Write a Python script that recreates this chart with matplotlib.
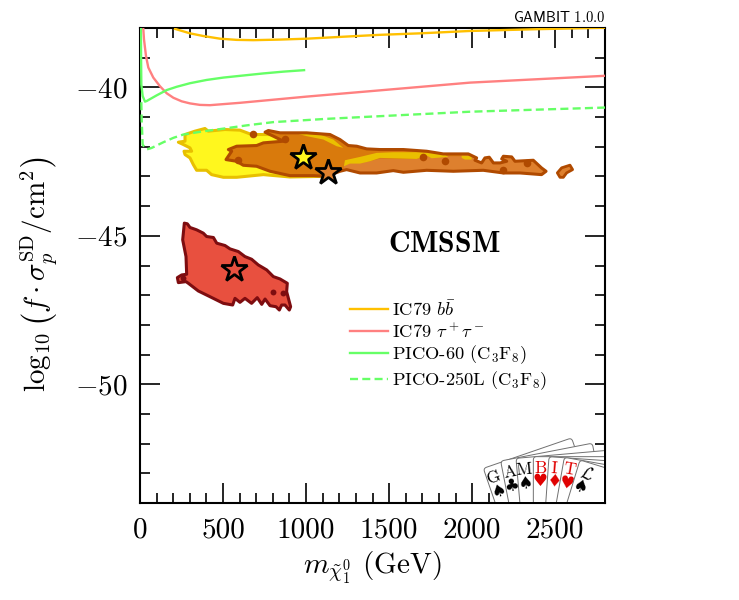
import numpy as np
import matplotlib
matplotlib.use("Agg")
import matplotlib.pyplot as plt
from matplotlib.patches import Polygon, FancyBboxPatch
from matplotlib.transforms import Affine2D

plt.rcParams['font.family'] = ['cmr10', 'DejaVu Sans']
plt.rcParams['mathtext.fontset'] = 'cm'
plt.rcParams['axes.unicode_minus'] = False
plt.rcParams['axes.formatter.use_mathtext'] = True

# limits from direct detection, neutralino mass (GeV) vs log10 cross section
bb_x = [211, 301, 381, 482, 582, 682, 843, 1004, 1204, 1445, 1686, 1987, 2390, 2800]
bb_y = [-38.03, -38.18, -38.27, -38.36, -38.40, -38.41, -38.39, -38.36, -38.30, -38.23, -38.18, -38.10, -38.04, -37.99]
tau_x = [20, 24, 36, 50, 80, 120, 161, 201, 251, 301, 361, 421, 602, 1005, 1445, 1987, 2800]
tau_y = [-38.04, -38.38, -38.94, -39.33, -39.67, -39.96, -40.2, -40.35, -40.47, -40.54, -40.59, -40.6,
         -40.52, -40.31, -40.10, -39.84, -39.61]
pico60_x = [5, 8, 16, 30, 40, 100, 161, 221, 301, 401, 502, 622, 743, 863, 988]
pico60_y = [-38.0, -39.9, -40.29, -40.48, -40.46, -40.27, -40.09, -39.98, -39.86, -39.75, -39.67, -39.60,
            -39.53, -39.47, -39.42]
pico250_x = [8, 10, 16, 40, 70, 140, 201, 260, 381, 502, 642, 803, 1124, 1445, 1987, 2800]
pico250_y = [-40.5, -41.08, -41.93, -42.09, -42.04, -41.85, -41.70, -41.59, -41.48, -41.39, -41.28, -41.17,
             -41.06, -40.97, -40.82, -40.68]

# credible regions
yellow_x = [231, 271, 271, 331, 391, 411, 512, 602, 672, 773, 883, 1004, 1124, 1204, 1244, 1204, 1124,
            903, 743, 582, 502, 431, 401, 341, 321, 301, 271, 265, 311, 301, 261]
yellow_y = [-41.847, -41.813, -41.588, -41.475, -41.385, -41.475, -41.419, -41.441, -41.588, -41.588,
            -41.644, -41.588, -41.667, -42.038, -42.263, -42.657, -42.995, -43.018, -42.939, -43.029,
            -43.029, -42.939, -42.792, -42.792, -42.601, -42.376, -42.263, -42.151, -42.151, -42.038, -41.925]

orange_x = [518, 552, 532, 582, 702, 743, 863, 803, 753, 773, 843, 1004, 1144, 1204, 1254, 1305, 1365,
            1445, 1586, 1726, 1826, 1977, 2027, 2017, 2057, 2077, 2103, 2128, 2168, 2208, 2178, 2188,
            2238, 2258, 2368, 2418, 2445, 2418, 2288, 2188, 2067, 1887, 1726, 1586, 1525, 1425, 1325,
            1244, 1204, 1124, 1044, 903, 783, 702, 622, 582]
orange_y = [-42.432, -42.151, -42.094, -41.982, -41.959, -41.869, -41.813, -41.644, -41.509, -41.453,
            -41.531, -41.531, -41.588, -41.757, -41.959, -41.982, -42.072,
            -42.094, -42.094, -42.151, -42.241, -42.241, -42.376, -42.455, -42.545, -42.376, -42.353,
            -42.545, -42.545, -42.489, -42.41, -42.32, -42.342, -42.489, -42.455, -42.714, -42.826,
            -42.939, -42.883, -42.883, -42.793, -42.826, -42.793, -42.86, -42.804, -42.883, -42.883,
            -42.77, -42.826, -42.995, -42.973, -42.973, -42.826, -42.657, -42.624, -42.489]

island_x = [2513, 2539, 2589, 2605, 2569, 2549, 2529]
island_y = [-42.88, -42.71, -42.62, -42.77, -42.88, -43.03, -43.03]

tail_x = [1224, 1234, 1325, 1385, 1445, 1586, 1666, 1726, 1927, 2007, 2730, 2730, 1224]
tail_y = [-42.77, -42.545, -42.545, -42.489, -42.398, -42.41, -42.41, -42.32, -42.32, -42.207,
          -42.207, -43.333, -43.333]

band_x = [1228, 1234, 1325, 1425, 1525, 1686, 1816, 1857, 1756, 1726, 1666, 1586, 1445, 1385, 1325, 1264]
band_y = [-42.657, -42.455, -42.342, -42.207, -42.184, -42.184, -42.207, -42.342, -42.387, -42.297,
          -42.41, -42.398, -42.376, -42.489, -42.567, -42.567]
band2_x = [1937, 1997, 1997, 1957, 1937]
band2_y = [-42.297, -42.32, -42.432, -42.432, -42.376]
band3_x = [943, 1084, 1164, 1224, 1184, 1104, 1004]
band3_y = [-41.554, -41.588, -41.757, -42.038, -41.982, -41.757, -41.644]

blob_x = [682, 873, 592, 1706, 1836, 2328, 2188]
blob_y = [-41.565, -41.723, -42.432, -42.353, -42.489, -42.545, -42.793]

red_x = [267, 285, 301, 341, 381, 401, 442, 462, 512, 542, 592, 632, 672, 712, 763, 803, 843, 887, 883,
         907, 899, 873, 853, 839, 819, 783, 753, 733, 706, 672, 632, 602, 572, 558, 502, 421, 351, 291,
         277, 231, 225, 251, 281, 277, 257]
red_y = [-44.573, -44.595, -44.719, -44.798, -44.91, -45.023, -45.057, -45.248, -45.327, -45.44, -45.53,
         -45.699, -45.789, -45.98, -46.149, -46.374, -46.453, -46.599, -46.881, -47.388, -47.5, -47.331,
         -47.331, -47.5, -47.388, -47.354, -47.129, -47.309, -47.083, -47.275, -47.106, -47.241, -47.106,
         -47.331, -47.275, -47.05, -46.858, -46.599, -46.543, -46.577, -46.408, -46.318, -46.295, -45.699,
         -45.136]
red_blob_x = [863, 803, 257]
red_blob_y = [-46.937, -46.903, -46.43]

# best fit points
star_x = [981, 1132, 566]
star_y = [-42.36, -42.84, -46.11]
star_colors = ['#FFF71E', '#DE802E', '#E8503F']

xticks = [0, 500, 1000, 1500, 2000, 2500]
xlabels = ['0', '500', '1000', '1500', '2000', '2500']
yticks = [-40, -45, -50]
ylabels = ['$-40$', '$-45$', '$-50$']

fig = plt.figure(figsize=(7.39, 6), dpi=100)
ax = fig.add_axes([140 / 739, 1 - 503 / 600, 465 / 739, 475 / 600])

yellow = Polygon(np.column_stack([yellow_x, yellow_y]), fc='#FFF71E', ec='#E8C000', lw=2.2, joinstyle='round', zorder=2)
ax.add_patch(yellow)

orange = Polygon(np.column_stack([orange_x, orange_y]), fc='#D97A0C', ec='none', zorder=3)
ax.add_patch(orange)
tail = Polygon(np.column_stack([tail_x, tail_y]), fc='#DE802E', ec='none', zorder=3.1)
ax.add_patch(tail)
tail.set_clip_path(orange)
for bx, by in [(band_x, band_y), (band2_x, band2_y), (band3_x, band3_y)]:
    p = Polygon(np.column_stack([bx, by]), fc='#EAC000', ec='none', zorder=3.2)
    ax.add_patch(p)
    p.set_clip_path(orange)
ax.add_patch(Polygon(np.column_stack([orange_x, orange_y]), fc='none', ec='#B04A00', lw=2.2, joinstyle='round', zorder=3.3))
ax.add_patch(Polygon(np.column_stack([island_x, island_y]), fc='#DE802E', ec='#B04A00', lw=2.0, joinstyle='round', zorder=3.3))
ax.scatter(blob_x, blob_y, s=30, c='#B04A00', linewidths=0, zorder=3.4)

ax.add_patch(Polygon(np.column_stack([red_x, red_y]), fc='#E8503F', ec='#7E0D10', lw=2.2, joinstyle='round', zorder=3))
ax.scatter(red_blob_x, red_blob_y, s=18, c='#7E0D10', linewidths=0, zorder=3.4)

ax.plot(bb_x, bb_y, color='#FFC000', lw=1.7, label=r'IC79 $b\bar{b}$', zorder=4)
ax.plot(tau_x, tau_y, color='#FF8080', lw=1.7, label=r'IC79 $\tau^+\tau^-$', zorder=4)
ax.plot(pico60_x, pico60_y, color='#66FF66', lw=1.7, label=r'PICO-60 (C$_3$F$_8$)', zorder=4)
ax.plot(pico250_x, pico250_y, color='#66FF66', lw=1.7, dashes=(3.4, 1.8), label=r'PICO-250L (C$_3$F$_8$)', zorder=4)

for sx, sy, sc in zip(star_x, star_y, star_colors):
    ax.plot([sx], [sy], marker='*', ms=19, mfc=sc, mec='k', mew=2.0, ls='none', zorder=5)

ax.set_xlim(0, 2800)
ax.set_ylim(-54, -38)
ax.set_xticks(xticks)
ax.set_xticklabels(xlabels)
ax.set_xticks(np.arange(0, 2801, 100), minor=True)
ax.set_yticks(yticks)
ax.set_yticklabels(ylabels)
ax.set_yticks(np.arange(-54, -37), minor=True)
ax.tick_params(which='major', direction='in', length=14.4, width=1.2, top=True, right=True, labelsize=21)
ax.tick_params(axis='x', which='major', pad=10)
ax.tick_params(axis='y', which='major', pad=9)
ax.tick_params(which='minor', direction='in', length=7.2, width=1.2, top=True, right=True)
for s in ax.spines.values():
    s.set_linewidth(1.5)

ax.set_xlabel(r'$m_{\tilde{\chi}_1^0}$ (GeV)', fontsize=21, labelpad=5)
ax.set_ylabel(r'$\log_{10}\left(f\cdot\sigma_p^{\mathrm{SD}}/\mathrm{cm}^2\right)$', fontsize=21, labelpad=11, y=0.482)

ax.text(1830, -45.27, r'$\mathbf{CMSSM}$', fontsize=21.5, ha='center', va='center')
ax.text(1.0, 1.006, r'$\mathsf{GAMBIT}\ \mathrm{1.0.0}$', transform=ax.transAxes, fontsize=10.6, ha='right', va='bottom')

ax.legend(loc='upper left', bbox_to_anchor=(0.452, 0.43), frameon=False, fontsize=13.3,
          handlelength=2.03, handletextpad=0.22, labelspacing=0.17, borderpad=0, borderaxespad=0)

# card fan logo, drawn in its own small axes with y pointing down
logo = fig.add_axes([470 / 739, 1 - 502 / 600, 134 / 739, 77 / 600])
logo.set_xlim(0, 402)
logo.set_ylim(231, 0)
logo.axis('off')

card_x = [40, 92, 138, 190, 237, 283, 330]
card_y = [130, 108, 100, 95, 95, 97, 105]
card_angle = [19, 11, 5, 0, -4, -10, -17]
card_letter = ['G', 'A', 'M', 'B', 'I', 'T', r'$\mathcal{L}$']
letter_x = [73, 120, 162, 212, 253, 297, 350]
letter_y = [156, 143, 133, 130, 130, 135, 146]
card_suit = ['\u2660', '\u2663', '\u2660', '\u2665', '\u2666', '\u2665', '\u2660']
suit_x = [85, 125, 165, 210, 252, 290, 330]
suit_y = [198, 183, 174, 169, 171, 174, 186]
card_color = ['k', 'k', 'k', '#E00000', '#E00000', '#E00000', 'k']

for i in range(7):
    tr = Affine2D().rotate_deg(-card_angle[i]).translate(card_x[i], card_y[i]) + logo.transData
    card = FancyBboxPatch((8, 8), 264, 400, boxstyle='round,pad=8,rounding_size=10',
                          fc='white', ec='#707070', lw=0.7, transform=tr, zorder=i + 1)
    logo.add_patch(card)
    logo.text(letter_x[i], letter_y[i], card_letter[i], color=card_color[i], fontsize=12.5, rotation=card_angle[i],
              ha='center', va='center', zorder=i + 1.5, clip_on=True)
    logo.text(suit_x[i], suit_y[i], card_suit[i], color=card_color[i], fontsize=12, family='DejaVu Sans',
              rotation=card_angle[i], ha='center', va='center', zorder=i + 1.5, clip_on=True)

fig.savefig('out.png', dpi=100)
